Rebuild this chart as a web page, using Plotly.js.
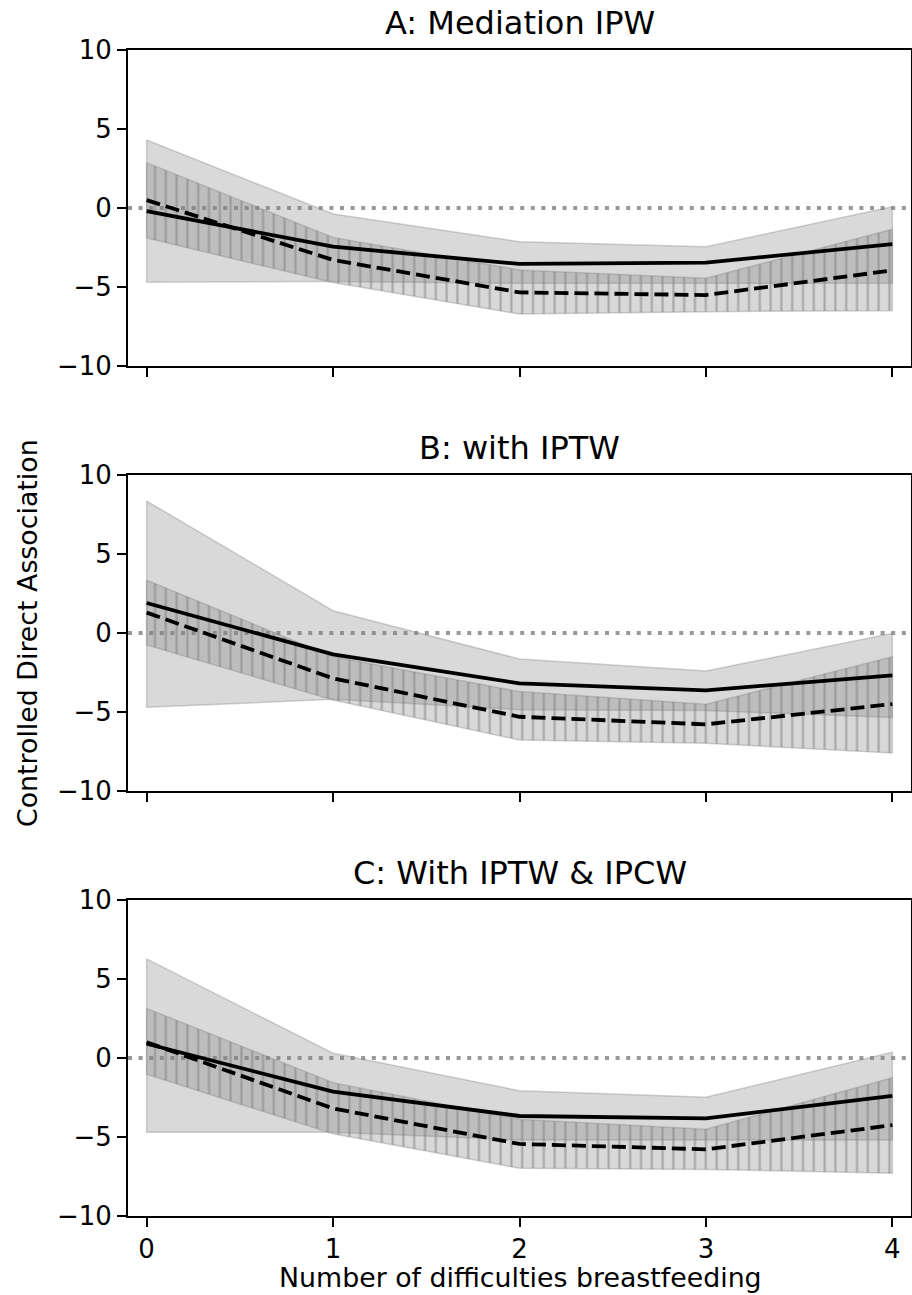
<!DOCTYPE html>
<html>
<head>
<meta charset="utf-8">
<script src="https://cdn.plot.ly/plotly-3.0.1.min.js"></script>
<style>
html, body { margin: 0; padding: 0; background: #fff; }
#chart { width: 912px; height: 1295px; }
</style>
</head>
<body>
<div id="chart"></div>
<script>
// ---- data ----
const difficulties = [0, 1, 2, 3, 4];
const panelTitles = ["A: Mediation IPW", "B: with IPTW", "C: With IPTW & IPCW"];
const yTickVals = [-10, -5, 0, 5, 10];
const yTickText = ["\u221210", "\u22125", "0", "5", "10"];
const xTickVals = [0, 1, 2, 3, 4];
const xTickText = ["0", "1", "2", "3", "4"];
const refLine = 0;

// Panel A
const aSolid    = [-0.20, -2.45, -3.54, -3.46, -2.28];
const aSolidLo  = [-4.70, -4.65, -4.77, -4.77, -4.77];
const aSolidHi  = [ 4.30, -0.38, -2.13, -2.45,  0.08];
const aDashed   = [ 0.50, -3.29, -5.34, -5.51, -3.95];
const aDashedLo = [-1.90, -4.72, -6.71, -6.56, -6.50];
const aDashedHi = [ 2.87, -1.86, -3.92, -4.45, -1.35];

// Panel B
const bSolid    = [ 1.90, -1.35, -3.19, -3.63, -2.68];
const bSolidLo  = [-4.70, -4.20, -4.85, -4.90, -5.35];
const bSolidHi  = [ 8.35,  1.41, -1.65, -2.41, -0.02];
const bDashed   = [ 1.29, -2.87, -5.30, -5.78, -4.50];
const bDashedLo = [-0.76, -4.24, -6.77, -6.98, -7.60];
const bDashedHi = [ 3.35, -1.50, -3.71, -4.51, -1.50];

// Panel C
const cSolid    = [ 0.90, -2.13, -3.67, -3.82, -2.40];
const cSolidLo  = [-4.70, -4.70, -5.19, -5.19, -5.19];
const cSolidHi  = [ 6.27,  0.30, -2.07, -2.49,  0.36];
const cDashed   = [ 1.00, -3.19, -5.44, -5.78, -4.25];
const cDashedLo = [-1.03, -4.80, -6.98, -7.05, -7.30];
const cDashedHi = [ 3.14, -1.56, -3.88, -4.51, -1.25];

const panels = [
  {solid: aSolid, solidLo: aSolidLo, solidHi: aSolidHi, dashed: aDashed, dashedLo: aDashedLo, dashedHi: aDashedHi},
  {solid: bSolid, solidLo: bSolidLo, solidHi: bSolidHi, dashed: bDashed, dashedLo: bDashedLo, dashedHi: bDashedHi},
  {solid: cSolid, solidLo: cSolidLo, solidHi: cSolidHi, dashed: cDashed, dashedLo: cDashedLo, dashedHi: cDashedHi}
];

// ---- build ----
const FONT = "DejaVu Sans, Verdana, sans-serif";
const bandFill = "rgba(128,128,128,0.30)";
const bandEdge = "rgba(128,128,128,0.35)";

function polygon(xs, hi, lo) {
  const px = xs.concat(xs.slice().reverse());
  const py = hi.concat(lo.slice().reverse());
  px.push(xs[0]); py.push(hi[0]);
  return {px, py};
}

const traces = [];
panels.forEach((p, i) => {
  const xa = i === 0 ? "x" : "x" + (i + 1);
  const ya = i === 0 ? "y" : "y" + (i + 1);
  const s = polygon(difficulties, p.solidHi, p.solidLo);
  traces.push({
    x: s.px, y: s.py, xaxis: xa, yaxis: ya, type: "scatter", mode: "lines",
    fill: "toself", fillcolor: bandFill,
    line: {color: bandEdge, width: 1.5},
    hoverinfo: "skip", showlegend: false
  });
  const d = polygon(difficulties, p.dashedHi, p.dashedLo);
  traces.push({
    x: d.px, y: d.py, xaxis: xa, yaxis: ya, type: "scatter", mode: "lines",
    fill: "toself", fillcolor: bandFill,
    fillpattern: {shape: "|", size: 10.8, solidity: 0.2, bgcolor: bandFill, fgcolor: "#808080", fgopacity: 0.55},
    line: {color: bandEdge, width: 1.5},
    hoverinfo: "skip", showlegend: false
  });
  traces.push({
    x: difficulties, y: p.solid, xaxis: xa, yaxis: ya, type: "scatter", mode: "lines",
    line: {color: "#000", width: 3.8}, showlegend: false
  });
  traces.push({
    x: difficulties, y: p.dashed, xaxis: xa, yaxis: ya, type: "scatter", mode: "lines",
    line: {color: "#000", width: 3.8, dash: "14px,6px"}, showlegend: false
  });
});

const H = 1166; // plot-area height in px
const domains = [
  [850 / H, 1],
  [425 / H, 741 / H],
  [0, 316 / H]
];

const layout = {
  width: 912, height: 1295,
  margin: {l: 128, r: 1, t: 50, b: 79},
  paper_bgcolor: "#fff", plot_bgcolor: "#fff",
  font: {family: FONT, size: 26, color: "#000"},
  showlegend: false,
  shapes: [], annotations: []
};

panels.forEach((p, i) => {
  const xk = i === 0 ? "xaxis" : "xaxis" + (i + 1);
  const yk = i === 0 ? "yaxis" : "yaxis" + (i + 1);
  const ya = i === 0 ? "y" : "y" + (i + 1);
  const xa = i === 0 ? "x" : "x" + (i + 1);
  layout[xk] = {
    domain: [0, 1], anchor: ya, range: [-0.1, 4.1],
    tickvals: xTickVals, ticktext: xTickText,
    showticklabels: i === 2,
    ticks: "outside", ticklen: 9, tickwidth: 2, tickcolor: "#000",
    showline: true, linecolor: "#000", linewidth: 2, mirror: true,
    showgrid: false, zeroline: false,
    tickfont: {family: FONT, size: 26, color: "#000"}
  };
  layout[yk] = {
    domain: domains[i], anchor: xa, range: [-10, 10],
    tickvals: yTickVals, ticktext: yTickText,
    ticks: "outside", ticklen: 9, tickwidth: 2, tickcolor: "#000",
    showline: true, linecolor: "#000", linewidth: 2, mirror: true,
    showgrid: false, zeroline: false,
    tickfont: {family: FONT, size: 26, color: "#000"}
  };
  layout.shapes.push({
    type: "line", xref: xa + " domain", yref: ya,
    x0: 0, x1: 1, y0: refLine, y1: refLine, layer: "below",
    line: {color: "#999", width: 4, dash: "4px,6.6px"}
  });
  layout.annotations.push({
    text: panelTitles[i], xref: "paper", yref: "paper",
    x: 0.5, y: domains[i][1], xanchor: "center", yanchor: "bottom",
    yshift: 6, showarrow: false,
    font: {family: FONT, size: 32, color: "#000"}
  });
});

layout.annotations.push({
  text: "Controlled Direct Association", xref: "paper", yref: "paper",
  x: (27 - 128) / 783, y: (1216 - 633) / H, xanchor: "center", yanchor: "middle",
  textangle: -90, showarrow: false,
  font: {family: FONT, size: 26.8, color: "#000"}
});
layout.annotations.push({
  text: "Number of difficulties breastfeeding", xref: "paper", yref: "paper",
  x: (520 - 128) / 783, y: (1216 - 1294) / H, xanchor: "center", yanchor: "bottom",
  showarrow: false, borderpad: 0,
  font: {family: FONT, size: 26.8, color: "#000"}
});

Plotly.newPlot("chart", traces, layout, {displayModeBar: false, staticPlot: true});
</script>
</body>
</html>
